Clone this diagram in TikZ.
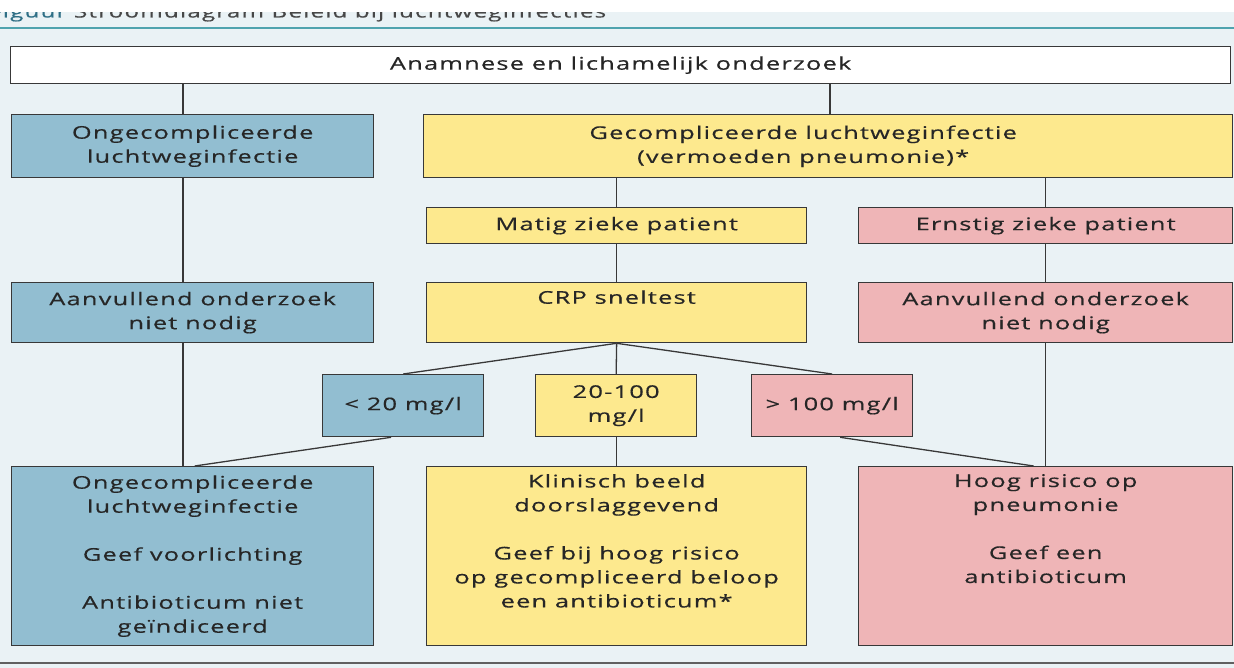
\documentclass[tikz,border=0pt]{standalone}
\usepackage{fontspec}
\setmainfont{Open Sans}[FakeStretch=1.45,LetterSpace=7,FakeBold=0.5]
\definecolor{bgc}{HTML}{EAF2F5}
\definecolor{bluec}{HTML}{92BED1}
\definecolor{yellowc}{HTML}{FDE98E}
\definecolor{pinkc}{HTML}{EFB5B7}
\definecolor{linec}{HTML}{383838}
\definecolor{textc}{HTML}{262626}
\definecolor{tealc}{HTML}{4FA3AE}
\definecolor{titlec}{HTML}{2F6F86}
\newcommand{\boxfont}{\fontsize{17.5}{24}\selectfont}
\tikzset{
  box/.style={draw=linec, line width=1.3pt, rectangle, inner sep=0pt, align=center,
    anchor=north west, font=\boxfont, text=textc},
  blubox/.style={box, fill=bluec},
  yelbox/.style={box, fill=yellowc},
  pinkbox/.style={box, fill=pinkc},
  conn/.style={draw=linec, line width=1.3pt}
}
\newcommand{\topbox}[2]{\begin{minipage}[t][#1][t]{360pt}\centering\vspace{3pt}#2\end{minipage}}
\begin{document}
\begin{tikzpicture}[x=1pt,y=1pt]
\useasboundingbox (0,0) rectangle (1234,-668);
\clip (0,0) rectangle (1234,-668);
% background
\fill[bgc] (0,0) rectangle (1234,-668);
% title (clipped at top by the white band)
\node[anchor=base west, inner sep=0pt, font=\fontsize{16.7}{20}\selectfont, text=textc!85] (title) at (-11,-17.5)
  {\textcolor{titlec}{Figuur} Stroomdiagram Beleid bij luchtweginfecties};
\fill[white] (0,0) rectangle (1234,-12.5);
\draw[tealc, line width=2pt] (0,-28) -- (1234,-28);
\draw[linec!80, line width=2pt] (0,-663) -- (1234,-663);
% boxes
\node[box, fill=white, minimum width=1220, minimum height=37] (top) at (10,-46) {Anamnese en lichamelijk onderzoek};
\node[blubox, minimum width=362, minimum height=63] (ong) at (11,-114) {Ongecompliceerde\\luchtweginfectie};
\node[yelbox, minimum width=809, minimum height=63] (gec) at (423,-114)
  {\begin{tabular}{@{}c@{}}Gecompliceerde luchtweginfectie\\(vermoeden pneumonie)*\end{tabular}\hspace{50pt}};
\node[yelbox, minimum width=380, minimum height=36] (mat) at (426,-207) {Matig zieke patient};
\node[pinkbox, minimum width=374, minimum height=36] (ern) at (858,-207) {Ernstig zieke patient};
\node[blubox, minimum width=362, minimum height=60] (aanB) at (11,-282) {Aanvullend onderzoek\\niet nodig};
\node[yelbox, minimum width=380, minimum height=60] (crp) at (426,-282) {CRP sneltest\\\strut};
\node[pinkbox, minimum width=374, minimum height=60] (aanP) at (858,-282) {Aanvullend onderzoek\\niet nodig};
\node[blubox, minimum width=161, minimum height=62] (lt20) at (322,-374) {< 20 mg/l};
\node[yelbox, minimum width=161, minimum height=62] (mid) at (535,-374) {20-100\\mg/l};
\node[pinkbox, minimum width=161, minimum height=62] (gt100) at (751,-374) {> 100 mg/l};
\node[blubox, minimum width=362, minimum height=179] (botB) at (11,-466)
  {Ongecompliceerde\\luchtweginfectie\\[24pt]Geef voorlichting\\[24pt]Antibioticum niet\\geïndiceerd};
\node[yelbox, minimum width=380, minimum height=179] (botY) at (426,-466)
  {\topbox{170pt}{Klinisch beeld\\doorslaggevend\\[24pt]Geef bij hoog risico\\op gecompliceerd beloop\\een antibioticum*}};
\node[pinkbox, minimum width=374, minimum height=179] (botP) at (858,-466)
  {\topbox{170pt}{Hoog risico op\\pneumonie\\[24pt]Geef een\\antibioticum}};
% connectors
\coordinate (cL) at (183,0);
\coordinate (cR) at (830,0);
\draw[conn] (cL |- top.south) -- (cL |- ong.north);
\draw[conn] (cL |- ong.south) -- (cL |- aanB.north);
\draw[conn] (cL |- aanB.south) -- (cL |- botB.north);
\draw[conn] (cR |- top.south) -- (cR |- gec.north);
\draw[conn] (mat.north |- gec.south) -- (mat.north);
\draw[conn] (ern.north |- gec.south) -- (ern.north);
\draw[conn] (mat.south) -- (mat.south |- crp.north);
\draw[conn] (ern.south) -- (aanP.north);
\draw[conn] (aanP.south) -- (botP.north);
\draw[conn] (crp.south) -- (lt20.north);
\draw[conn] (crp.south) -- (mid.north);
\draw[conn] (crp.south) -- (gt100.north);
\draw[conn] ([xshift=-12pt]lt20.south) -- ([xshift=2pt]botB.north);
\draw[conn] (mid.south) -- (mid.south |- botY.north);
\draw[conn] ([xshift=8pt]gt100.south) -- ([xshift=-12pt]botP.north);
\end{tikzpicture}
\end{document}
